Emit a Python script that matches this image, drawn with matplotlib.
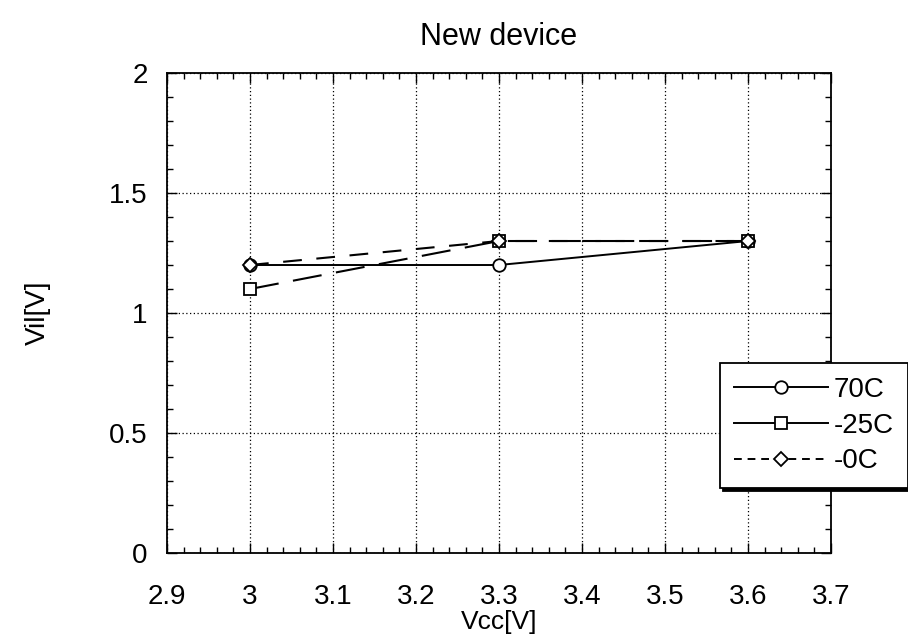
import matplotlib.pyplot as plt
from matplotlib.lines import Line2D
from matplotlib.ticker import MultipleLocator

plt.rcParams["font.family"] = ["Liberation Sans", "DejaVu Sans"]

vcc = [3.0, 3.3, 3.6]
vil_70c = [1.2, 1.2, 1.3]
vil_25c = [1.1, 1.3, 1.3]
vil_0c = [1.2, 1.3, 1.3]
labels = ["70C", "-25C", "-0C"]

fig = plt.figure(figsize=(9.08, 6.36), dpi=100)
ax = fig.add_axes([0.1839, 0.1305, 0.7313, 0.7547])

mk = dict(markersize=9, markerfacecolor="white", markeredgecolor="black",
          markeredgewidth=1.3, color="black")
ax.plot(vcc, vil_70c, "-", marker="o", lw=1.4, **mk)
ax.plot(vcc, vil_25c, marker="s", lw=1.5, dashes=(14, 7), **mk)
ax.plot(vcc, vil_0c, marker="D", lw=1.5, dashes=(9, 7), **dict(mk, markersize=7.5))

ax.set_xlim(2.9, 3.7)
ax.set_ylim(0, 2)
ax.xaxis.set_major_locator(MultipleLocator(0.1))
ax.xaxis.set_minor_locator(MultipleLocator(0.02))
ax.yaxis.set_major_locator(MultipleLocator(0.5))
ax.yaxis.set_minor_locator(MultipleLocator(0.1))
ax.tick_params(which="both", direction="in", top=True, right=True, labelsize=20)
ax.tick_params(which="major", length=7, width=1)
ax.tick_params(axis="x", which="major", pad=22)
ax.tick_params(axis="y", which="major", pad=14)
ax.tick_params(which="minor", length=4, width=1)
ax.grid(True, which="major", linestyle=(0, (1, 2)), color="black", lw=0.9)
for s in ax.spines.values():
    s.set_linewidth(1.3)

ax.xaxis.set_major_formatter(plt.FuncFormatter(lambda v, p: f"{v:g}"))
ax.yaxis.set_major_formatter(plt.FuncFormatter(lambda v, p: f"{v:g}"))

ax.set_title("New device", fontsize=22, pad=20)
ax.set_xlabel("Vcc[V]", fontsize=19, labelpad=0)
ax.set_ylabel("Vil[V]", fontsize=20, labelpad=42)

# legend keys as drawn in the original: solid for 70C/-25C, dashed for -0C
handles = [
    Line2D([], [], ls="-", marker="o", lw=1.4, **mk),
    Line2D([], [], ls="-", marker="s", lw=1.4, **mk),
    Line2D([], [], ls=(0, (4, 3)), marker="D", lw=1.4, **dict(mk, markersize=7.5)),
]
leg = fig.legend(handles, labels, loc="upper left",
                 bbox_to_anchor=(720 / 908, 1 - 363 / 636), fontsize=20,
                 frameon=True, fancybox=False, shadow={"color": "black", "alpha": 1.0},
                 edgecolor="black", framealpha=1, handlelength=3.4,
                 borderpad=0.5, labelspacing=0.35, handletextpad=0.2,
                 borderaxespad=0)
leg.get_frame().set_linewidth(1.3)

fig.savefig("out.png", dpi=100)
